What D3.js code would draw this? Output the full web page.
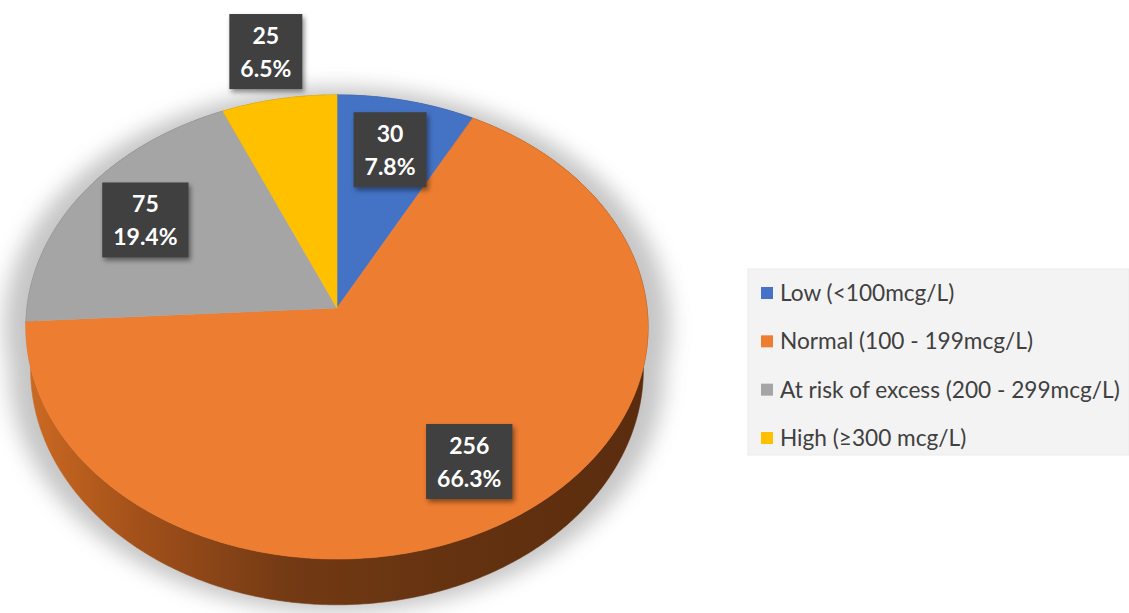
<!DOCTYPE html>
<html>
<head>
<meta charset="utf-8">
<script src="https://cdn.jsdelivr.net/npm/d3@7"></script>
<style>
  html, body { margin: 0; padding: 0; background: #ffffff; }
  svg { display: block; }
</style>
</head>
<body>
<svg id="chart" width="1129" height="613"></svg>
<script>
// ---- data ----
const categories = ["Low (<100mcg/L)", "Normal (100 - 199mcg/L)", "At risk of excess (200 - 299mcg/L)", "High (\u2265300 mcg/L)"];
const counts = [30, 256, 75, 25];
const colors = ["#4472c4", "#ed7d31", "#a5a5a5", "#ffc000"];

// ---- layout ----
const W = 1129, H = 613;
const cx = 337, cy = 308, R = 310, b = 0.7435, k = 0.0818, D = 42, shrink = 0.985;
const labelFont = "Lato, 'Open Sans', sans-serif";

const svg = d3.select("#chart");
const defs = svg.append("defs");

// perspective projection of a point on the disc (angle theta, radius fraction f, height h: 0 top, 1 bottom)
function proj(theta, f, h) {
  const c = Math.cos(theta), sn = Math.sin(theta);
  const s = 1 / (1 + k * f * c);
  let x = cx + f * R * sn * s;
  const y = cy - f * R * b * c * s + h * D * s;
  if (h) x = cx + (x - cx) * shrink;
  return [x, y];
}
function arcPts(a0, a1, f, h) {
  const n = Math.max(2, Math.ceil(Math.abs(a1 - a0) / (Math.PI / 360)));
  return d3.range(n + 1).map(i => proj(a0 + (a1 - a0) * i / n, f, h));
}
const line = d3.line();

const pie = d3.pie().sort(null).value(d => d)(counts);
const total = d3.sum(counts);
const pct = d3.format(".1%");

// gradients / filters
const grad = defs.append("linearGradient").attr("id", "wallOrange")
  .attr("gradientUnits", "userSpaceOnUse").attr("x1", cx - R).attr("x2", cx + R).attr("y1", 0).attr("y2", 0);
[["0%", "#cc6a22"], ["18%", "#a2501a"], ["42%", "#733a14"], ["70%", "#643210"], ["100%", "#5a2c0e"]]
  .forEach(([o, c]) => grad.append("stop").attr("offset", o).attr("stop-color", c));

const blur = defs.append("filter").attr("id", "pieShadow").attr("x", "-20%").attr("y", "-20%").attr("width", "140%").attr("height", "140%");
blur.append("feGaussianBlur").attr("stdDeviation", 10);

const drop = defs.append("filter").attr("id", "boxShadow").attr("x", "-20%").attr("y", "-20%").attr("width", "150%").attr("height", "150%");
drop.append("feDropShadow").attr("dx", 2).attr("dy", 3).attr("stdDeviation", 2.5).attr("flood-color", "#000").attr("flood-opacity", 0.45);

// ---- soft shadow behind the pie ----
const sh = svg.append("g").attr("filter", "url(#pieShadow)").attr("opacity", 0.42)
  .attr("transform", `translate(${cx},${cy + 40}) scale(1.07,1.03) translate(${-cx},${-(cy + 40)})`);
sh.append("path").attr("d", line(arcPts(0, 2 * Math.PI, 1, 0)) + "Z").attr("fill", "#777");
sh.append("path").attr("d", line(arcPts(0, 2 * Math.PI, 1, 1)) + "Z").attr("fill", "#777");
svg.append("path").attr("d", line(arcPts(Math.PI * 0.35, Math.PI * 1.65, 1, 0).reverse()) + "Z").attr("fill", "#fff");

// ---- side walls ----
const walls = pie.map((d, i) => ({ d, i, front: d3.max(d3.range(0, 11).map(j => -Math.cos(d.startAngle + (d.endAngle - d.startAngle) * j / 10))) }));
walls.sort((a, b2) => a.front - b2.front);
svg.append("g").selectAll("path").data(walls).join("path")
  .attr("d", w => {
    const top = arcPts(w.d.startAngle, w.d.endAngle, 1, 0);
    const bot = arcPts(w.d.endAngle, w.d.startAngle, 1, 1);
    return line(top.concat(bot)) + "Z";
  })
  .attr("fill", w => w.i === 1 ? "url(#wallOrange)" : d3.color(colors[w.i]).darker(1.3).formatHex())
  .attr("stroke", w => w.i === 1 ? "url(#wallOrange)" : d3.color(colors[w.i]).darker(1.3).formatHex())
  .attr("stroke-width", 0.6);

// ---- top faces ----
svg.append("g").selectAll("path").data(pie).join("path")
  .attr("d", d => line([[cx, cy]].concat(arcPts(d.startAngle, d.endAngle, 1, 0))) + "Z")
  .attr("fill", (d, i) => colors[i])
  .attr("stroke", (d, i) => colors[i])
  .attr("stroke-width", 0.6);

// ---- data labels ----
const lg = svg.append("g");
pie.forEach((d, i) => {
  const mid = (d.startAngle + d.endAngle) / 2;
  const share = d.value / total;
  const f = share < 0.07 ? 1.25 : 0.75;
  const [x, y] = proj(mid, f, 0);
  const g = lg.append("g").attr("transform", `translate(${x},${y})`);
  const rect = g.append("rect").attr("fill", "#404040").attr("filter", "url(#boxShadow)");
  const t1 = g.append("text").attr("text-anchor", "middle").attr("y", -16).attr("dy", "0.35em")
    .attr("fill", "#fff").attr("font-family", labelFont).attr("font-weight", "bold").attr("font-size", 23)
    .text(d3.format("d")(d.value));
  const t2 = g.append("text").attr("text-anchor", "middle").attr("y", 17).attr("dy", "0.35em")
    .attr("fill", "#fff").attr("font-family", labelFont).attr("font-weight", "bold").attr("font-size", 23)
    .text(pct(share));
  const tw = Math.max(t1.node().getComputedTextLength(), t2.node().getComputedTextLength());
  const bw = tw + 22, bh = 75;
  rect.attr("x", -bw / 2).attr("y", -bh / 2).attr("width", bw).attr("height", bh);
});

// ---- legend ----
const legend = svg.append("g");
legend.append("rect").attr("x", 748).attr("y", 269).attr("width", W - 748).attr("height", 186)
  .attr("fill", "#f3f3f3").attr("stroke", "#ececec");
const legendY = d3.scalePoint().domain(categories).range([293, 438]);
const items = legend.selectAll("g.item").data(categories).join("g").attr("class", "item")
  .attr("transform", c => `translate(761,${legendY(c)})`);
items.append("rect").attr("x", 0).attr("y", -6).attr("width", 12).attr("height", 12)
  .attr("fill", (c, i) => colors[i]);
const texts = items.append("text").attr("x", 19).attr("dy", "0.35em")
  .attr("fill", "#404040").attr("font-family", labelFont).attr("font-size", 22)
  .text(c => c);
// fit legend font so the longest entry spans the same width as the reference
const maxW = d3.max(texts.nodes(), n => n.getComputedTextLength());
texts.attr("font-size", 22 * 340 / maxW);
</script>
</body>
</html>
